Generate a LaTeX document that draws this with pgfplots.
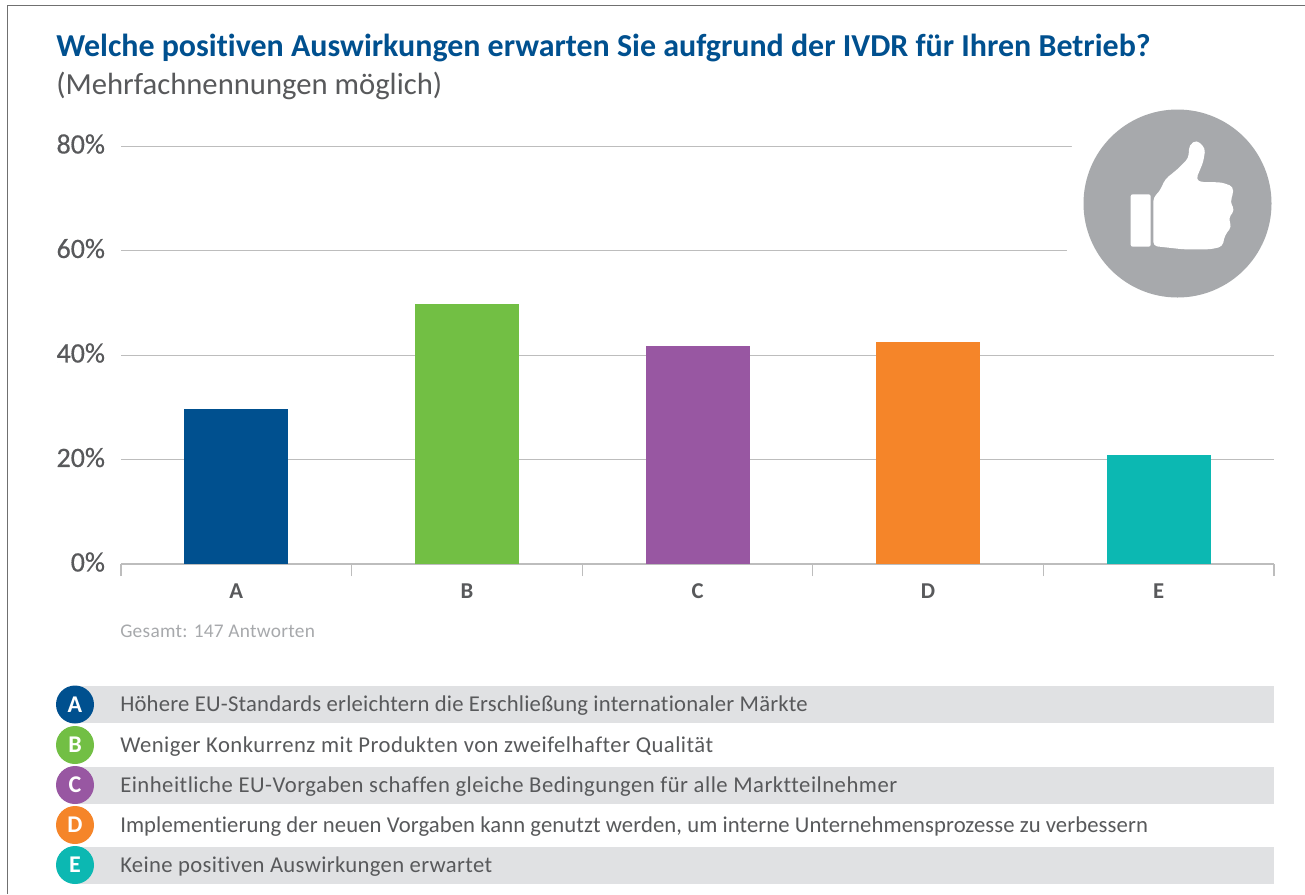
\documentclass[border=0pt]{standalone}
\usepackage{pgfplots}
\pgfplotsset{compat=1.18}
\usepackage{fontspec}
\setmainfont[Ligatures=NoCommon]{Carlito}
\definecolor{cA}{HTML}{00508F}
\definecolor{cB}{HTML}{72BF44}
\definecolor{cC}{HTML}{9857A2}
\definecolor{cD}{HTML}{F58529}
\definecolor{cE}{HTML}{0CB8B2}
\definecolor{band}{HTML}{E0E1E3}
\definecolor{disc}{HTML}{A7A9AC}
\definecolor{txt}{HTML}{58595B}
\definecolor{gridc}{HTML}{BDBDBD}
\definecolor{frame}{HTML}{707070}
\newcommand{\fs}[1]{\fontsize{#1}{#1}\selectfont}
\begin{document}
\begin{tikzpicture}[x=0.75pt,y=-0.75pt]
\path[use as bounding box,fill=white] (0,0) rectangle (1305,894);
\draw[frame,line width=0.9pt] (1305,5.5) -- (7.5,5.5) -- (7.5,894);
\node[anchor=base west,inner sep=0,text=cA,font=\fs{23.97}\bfseries] at (56,56) {Welche positiven Auswirkungen erwarten Sie aufgrund der IVDR für Ihren Betrieb?};
\node[anchor=base west,inner sep=0,text=txt,font=\fs{23}] at (56,94) {(Mehrfachnennungen möglich)};
\coordinate (o) at (121,564);
\begin{axis}[
  at={(o)},anchor=south west,scale only axis,
  width=864.75pt,height=313.5pt,
  xmin=-0.5,xmax=4.5,ymin=0,ymax=80,
  ybar=0pt,bar width=78pt,bar shift=0pt,
  axis x line*=bottom,axis y line*=left,
  y axis line style={draw=none},
  x axis line style={gridc,line width=0.8pt,-},
  xtick={0,1,2,3,4},xticklabels={A,B,C,D,E},
  minor xtick={-0.5,0.5,1.5,2.5,3.5,4.5},
  major tick length=0pt,minor tick length=9pt,
  tick align=outside,
  minor tick style={gridc,line width=0.8pt},
  ytick={0,20,40,60,80},
  ymajorgrids,
  grid style={gridc,line width=0.75pt},
  yticklabel={\pgfmathprintnumber[assume math mode=true]{\tick}\%},
  yticklabel style={font=\fs{21}\addfontfeature{FakeBold=0.5},text=txt,anchor=east,xshift=-8.5pt,yshift=1.5pt},
  xticklabel style={font=\fs{17}\bfseries,text=txt,yshift=-11.5pt},
]
\addplot[fill=cA,draw=none] coordinates {(0,29.7)};
\addplot[fill=cB,draw=none] coordinates {(1,49.8)};
\addplot[fill=cC,draw=none] coordinates {(2,41.7)};
\addplot[fill=cD,draw=none] coordinates {(3,42.5)};
\addplot[fill=cE,draw=none] coordinates {(4,20.9)};
\end{axis}
\fill[white] (1177.5,203.5) circle[radius=120];
\fill[disc] (1177.5,203.5) circle[radius=94];
\begin{scope}[shift={(1040,90)},x=0.25pt,y=-0.25pt]
\fill[white,rounded corners=1.5pt] (272,313) rectangle (332,470);
\fill[white,rounded corners=3pt] (340,322) -- (358,305) -- (376,267) -- (412,238) -- (445,205) -- (448,165) -- (470,150) -- (496,175) -- (490,215) -- (468,268) -- (480,276) -- (545,277) -- (580,290) -- (578,318) -- (570,335) -- (584,360) -- (565,385) -- (575,410) -- (555,435) -- (547,470) -- (510,478) -- (430,478) -- (340,468) -- cycle;
\end{scope}
\node[anchor=base west,inner sep=0,text=disc,font=\fs{14.5}\addfontfeature{LetterSpace=1.5}] at (120,637) {Gesamt: 147 Antworten};
\fill[band] (75,686) rectangle (1274,723);
\fill[band] (75,767) rectangle (1274,804);
\fill[band] (75,847) rectangle (1274,884);
\foreach \yy/\cc/\ll/\ls/\tt in {
 704.5/cA/A/0.95/{Höhere EU-Standards erleichtern die Erschließung internationaler Märkte},
 745/cB/B/2.15/{Weniger Konkurrenz mit Produkten von zweifelhafter Qualität},
 785/cC/C/2.15/{Einheitliche EU-Vorgaben schaffen gleiche Bedingungen für alle Marktteilnehmer},
 825/cD/D/0.4/{Implementierung der neuen Vorgaben kann genutzt werden, um interne Unternehmensprozesse zu verbessern},
 865/cE/E/1.45/{Keine positiven Auswirkungen erwartet}}{
  \fill[\cc] (75,\yy) circle[radius=19];
  \node[text=white,font=\fs{18}\bfseries,inner sep=0] at (75,\yy) {\ll};
  \node[anchor=base west,inner sep=0,text=txt,font=\fs{17}\addfontfeature{LetterSpace=\ls}] at (120,\yy+7) {\tt};
}
\end{tikzpicture}
\end{document}
